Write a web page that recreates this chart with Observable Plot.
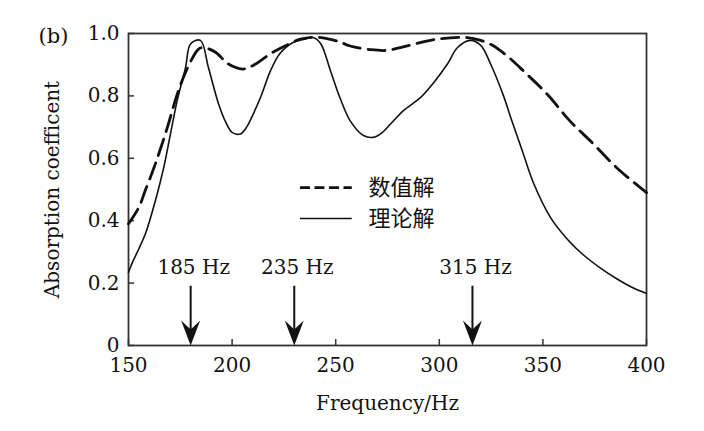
<!DOCTYPE html>
<html><head><meta charset="utf-8">
<script src="https://cdn.jsdelivr.net/npm/d3@7"></script>
<script src="https://cdn.jsdelivr.net/npm/@observablehq/plot@0.6"></script>
<style>body{margin:0;background:#fff}</style>
</head><body><div id="chart"></div>
<script>
// Theoretical solution (solid)
const solidFreq = [150,152,155,158.2,163,167,170.3,173.5,177.5,180,184.7,188.6,193.4,197,200,204,207,209,213.7,218.5,223,229.6,235,239,242.7,247.5,252,257,263.4,268,272,276.5,282.7,291,297,304,308.8,315,320,324.7,331,335,340,345.5,353.7,361.9,369.6,377.8,385.6,393.7,400];
const solidValues = [0.235,0.268,0.31,0.359,0.465,0.57,0.68,0.785,0.89,0.967,0.978,0.89,0.776,0.715,0.683,0.678,0.70,0.725,0.795,0.88,0.935,0.972,0.982,0.987,0.968,0.88,0.795,0.72,0.673,0.667,0.68,0.71,0.753,0.795,0.84,0.903,0.955,0.978,0.962,0.903,0.80,0.72,0.625,0.52,0.41,0.34,0.29,0.248,0.214,0.184,0.167];
// Numerical solution (dashed)
const dashedFreq = [150,155,158,163,168.8,173.6,178.5,183.8,186,192,198,205,210,218.5,225,233,241,251,257,267,275,283,299,313.6,320,325.7,329.5,335,340.6,352,363,374.4,385.6,400];
const dashedValues = [0.39,0.443,0.495,0.583,0.70,0.807,0.89,0.95,0.955,0.94,0.903,0.886,0.897,0.935,0.958,0.982,0.988,0.975,0.96,0.948,0.946,0.958,0.982,0.987,0.978,0.962,0.945,0.915,0.88,0.806,0.72,0.646,0.57,0.49];

const xTicks = [150,200,250,300,350,400];
const yTicks = [0,0.2,0.4,0.6,0.8,1.0];
const yTickLabels = ["0","0.2","0.4","0.6","0.8","1.0"];
const arrowFreqs = [180,230,316];
const arrowLabels = ["185 Hz","235 Hz","315 Hz"];
const arrowTop = 0.19;
const arrowLabelY = 0.25;
const legendNames = ["数值解","理论解"];
const legendY = [0.506, 0.407];
const legendX = [233, 258];
const legendTextX = 265.8;
const xLabel = "Frequency/Hz";
const yLabel = "Absorption coefficent";
const panelLabel = "(b)";

const solid = solidFreq.map((f,i)=>({f, v: solidValues[i]}));
const dashed = dashedFreq.map((f,i)=>({f, v: dashedValues[i]}));
const arrows = arrowFreqs.map((f,i)=>({f, label: arrowLabels[i]}));
const legend = legendNames.map((name,i)=>({name, y: legendY[i]}));

const serif = "DejaVu Serif";
const ink = "#111";
const fs = 20;

const arrowHead = {
  draw(ctx) {
    ctx.moveTo(0, 0);
    ctx.lineTo(-9.5, -25);
    ctx.lineTo(0, -16);
    ctx.lineTo(9.5, -25);
    ctx.closePath();
  }
};

const chart = Plot.plot({
  width: 704,
  height: 431,
  marginLeft: 128,
  marginRight: 58,
  marginTop: 33,
  marginBottom: 86,
  style: {fontFamily: serif, fontSize: fs + "px", color: ink, background: "#fff"},
  x: {domain: [150, 400], label: null},
  y: {domain: [0, 1], label: null},
  marks: [
    Plot.axisX(xTicks, {anchor: "bottom", tickSize: 6, dy: -6, tickFormat: () => "", stroke: "#333", strokeWidth: 1.5, label: null}),
    Plot.axisX(xTicks, {anchor: "bottom", tickSize: 0, tickPadding: 12, tickFormat: d => String(d), fontSize: fs, label: null}),
    Plot.axisY(yTicks, {anchor: "left", tickSize: 6, dx: 6, tickFormat: () => "", stroke: "#333", strokeWidth: 1.5, label: null}),
    Plot.axisY(yTicks, {anchor: "left", tickSize: 0, tickPadding: 9, tickFormat: d => yTickLabels[yTicks.indexOf(d)], fontSize: fs, label: null}),
    Plot.frame({stroke: "#333", strokeWidth: 1.8}),
    Plot.line(dashed, {x: "f", y: "v", curve: "catmull-rom", stroke: ink, strokeWidth: 2.8, strokeDasharray: "17,8"}),
    Plot.line(solid, {x: "f", y: "v", curve: "catmull-rom", stroke: ink, strokeWidth: 1.6}),
    Plot.ruleX(arrows, {x: "f", y1: arrowTop, y2: 0.03, stroke: ink, strokeWidth: 2}),
    Plot.dot(arrows, {x: "f", y: 0, symbol: arrowHead, fill: ink, stroke: "none"}),
    Plot.text(arrows, {x: "f", y: arrowLabelY, text: "label", dx: 3, fontSize: fs, fill: ink}),
    Plot.ruleY(legend.slice(0,1), {y: "y", x1: legendX[0], x2: legendX[1], stroke: ink, strokeWidth: 2.6, strokeDasharray: "10,4.5"}),
    Plot.ruleY(legend.slice(1,2), {y: "y", x1: legendX[0], x2: legendX[1], stroke: ink, strokeWidth: 1.6}),
    Plot.text(legend, {x: legendTextX, y: "y", text: "name", textAnchor: "start", fontFamily: "Noto Sans CJK SC", fontSize: 22, fill: ink}),
    Plot.text([xLabel], {frameAnchor: "bottom", textAnchor: "middle", lineAnchor: "middle", dy: 58, fontSize: fs, letterSpacing: "1px", fill: ink}),
    Plot.text([yLabel], {frameAnchor: "left", textAnchor: "middle", lineAnchor: "middle", rotate: -90, dx: -76, fontSize: fs, fill: ink}),
    Plot.text([panelLabel], {frameAnchor: "top-left", textAnchor: "middle", lineAnchor: "middle", dx: -75, dy: 3, fontSize: 21, fill: ink})
  ]
});
document.getElementById("chart").appendChild(chart);
</script>
</body></html>
